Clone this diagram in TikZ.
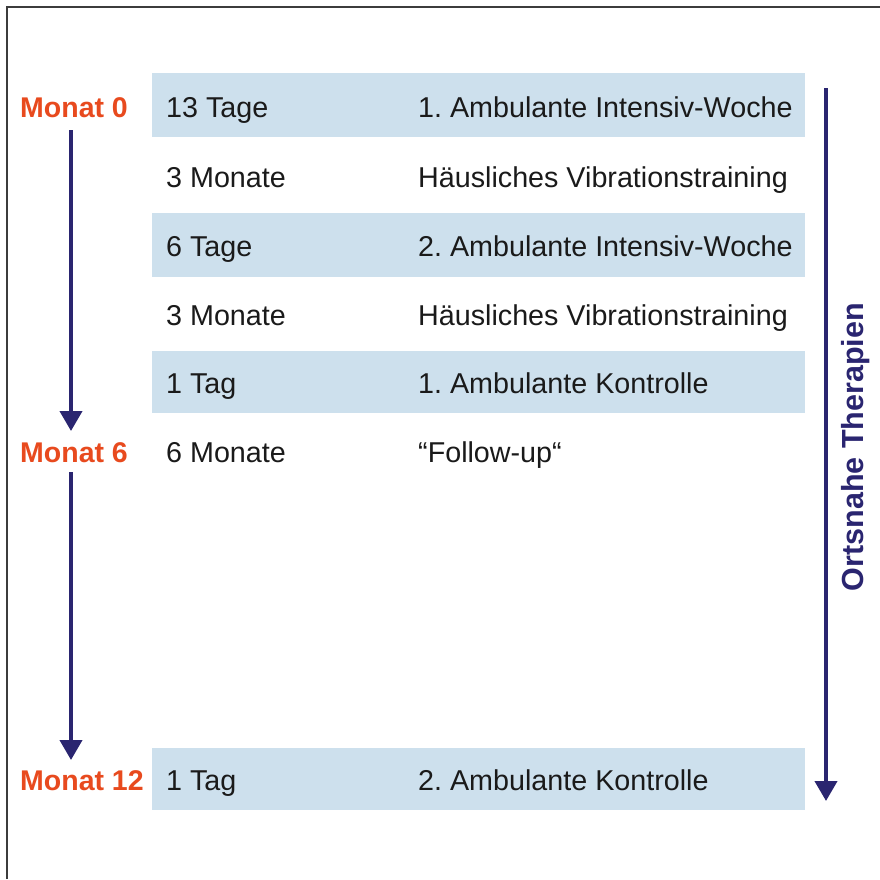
\documentclass[tikz,border=0pt]{standalone}
\usepackage{fontspec}
\setmainfont{Liberation Sans}
\usetikzlibrary{arrows.meta}
\frenchspacing
\definecolor{band}{HTML}{CDE0ED}
\definecolor{navy}{HTML}{2A2570}
\definecolor{orng}{HTML}{E84A1E}
\definecolor{txt}{HTML}{1A1A1A}
\definecolor{frame}{HTML}{3C3C3C}
\tikzset{
  bandbox/.style={fill=band,draw=none},
  celltxt/.style={anchor=base west,inner sep=0pt,text=txt,font=\fontsize{28.7}{34}\selectfont},
  monthtxt/.style={anchor=base west,inner sep=0pt,text=orng,font=\fontsize{28.5}{34}\selectfont\bfseries},
  timearrow/.style={draw=navy,line width=4pt,-{Triangle[length=20pt,width=22pt]}}
}
\begin{document}
\begin{tikzpicture}[x=1pt,y=-1pt]
\useasboundingbox (0,0) rectangle (880,879);
\fill[white] (0,0) rectangle (880,879);
\draw[frame,line width=2pt] (7,879) -- (7,7) -- (880,7);
% bands
\fill[bandbox] (152,73) rectangle (805,137);
\fill[bandbox] (152,213) rectangle (805,277);
\fill[bandbox] (152,351) rectangle (805,413);
\fill[bandbox] (152,748) rectangle (805,810);
% month labels
\node[monthtxt] (m0) at (20,117) {Monat 0};
\node[monthtxt] (m6) at (20,462) {Monat 6};
\node[monthtxt] (m12) at (20,790) {Monat 12};
% rows
\node[celltxt] (d1) at (166,117) {13 Tage};
\node[celltxt] (t1) at (418,117) {1. Ambulante Intensiv-Woche};
\node[celltxt] (d2) at (166,187) {3 Monate};
\node[celltxt] (t2) at (418,187) {Häusliches Vibrationstraining};
\node[celltxt] (d3) at (166,256) {6 Tage};
\node[celltxt] (t3) at (418,256) {2. Ambulante Intensiv-Woche};
\node[celltxt] (d4) at (166,325) {3 Monate};
\node[celltxt] (t4) at (418,325) {Häusliches Vibrationstraining};
\node[celltxt] (d5) at (166,393) {1 Tag};
\node[celltxt] (t5) at (418,393) {1. Ambulante Kontrolle};
\node[celltxt] (d6) at (166,462) {6 Monate};
\node[celltxt] (t6) at (418,462) {“Follow-up“};
\node[celltxt] (d7) at (166,790) {1 Tag};
\node[celltxt] (t7) at (418,790) {2. Ambulante Kontrolle};
% arrows
\coordinate (a1s) at (71,130);
\coordinate (a1e) at (71,431);
\coordinate (a2s) at (71,472);
\coordinate (a2e) at (71,760);
\coordinate (a3s) at (826,88);
\coordinate (a3e) at (826,801);
\draw[timearrow] (a1s) -- (a1e);
\draw[timearrow] (a2s) -- (a2e);
\draw[timearrow] (a3s) -- (a3e);
\node[rotate=90,text=navy,inner sep=0pt,font=\fontsize{30.5}{36}\selectfont\bfseries] (ot) at (856,447) {Ortsnahe Therapien};
\end{tikzpicture}
\end{document}
